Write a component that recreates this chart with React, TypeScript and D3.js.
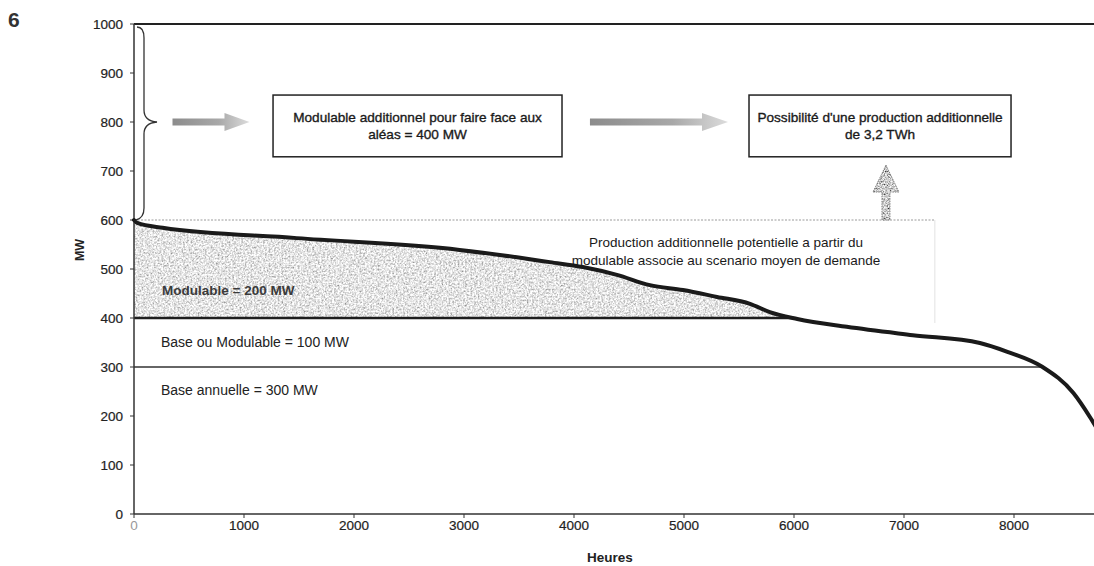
import React from 'react';
import * as d3 from 'd3';

// Load-duration curve (MW vs hours in the year)
const hours = [0, 30, 260, 1480, 2960, 3600, 3780, 4080, 4390, 4690, 4990, 5300, 5600, 5780, 6030, 6480, 7080, 7690, 7940, 8260, 8540, 8690, 8760];
const mw = [600, 594, 584, 563, 539, 520, 514, 504, 488, 467, 457, 443, 429, 412, 398, 382, 365, 349, 331, 300, 247, 198, 172];

const xTicks = [0, 1000, 2000, 3000, 4000, 5000, 6000, 7000, 8000];
const yTicks = [0, 100, 200, 300, 400, 500, 600, 700, 800, 900, 1000];

const baseLevel = 300;
const modLevel = 400;
const capLevel = 600;
const maxLevel = 1000;
const dottedEndHour = 7280;

const boxes = [
  { h0: 1264, h1: 3891, v0: 855, v1: 729, lines: ['Modulable additionnel pour faire face aux', 'aléas = 400 MW'] },
  { h0: 5591, h1: 7973, v0: 855, v1: 729, lines: ["Possibilité d'une production additionnelle", 'de 3,2 TWh'] },
];
const rightArrows = [
  { h0: 350, h1: 1050, head: 25, v: 800 },
  { h0: 4145, h1: 5400, head: 26, v: 800 },
];
const upArrow = { h: 6836, vTop: 712, vHead: 657, vBase: 600 };

const W = 1094, H = 566;
const FONT = '"Liberation Sans", Arial, sans-serif';

export default function App() {
  const x = d3.scaleLinear().domain([0, 8760]).range([134, 134 + 0.11 * 8760]);
  const y = d3.scaleLinear().domain([0, 1000]).range([514, 24]);

  const pts = hours.map((h, i) => ({ h, v: mw[i] }));
  const cross = (level: number) => {
    for (let i = 1; i < pts.length; i++) {
      const a = pts[i - 1], b = pts[i];
      if (a.v >= level && b.v <= level) return a.h + ((a.v - level) / (a.v - b.v)) * (b.h - a.h);
    }
    return 8760;
  };
  const c400 = cross(modLevel);
  const c300 = cross(baseLevel);
  const areaPts = pts.filter(p => p.h < c400).concat([{ h: c400, v: modLevel }]);

  const line = d3.line<{ h: number; v: number }>().x(d => x(d.h)).y(d => y(d.v)).curve(d3.curveMonotoneX);
  const area = d3.area<{ h: number; v: number }>().x(d => x(d.h)).y0(y(modLevel)).y1(d => y(Math.max(d.v, modLevel))).curve(d3.curveMonotoneX);

  const arrowPath = (a: typeof rightArrows[0]) => {
    const x0 = x(a.h0), x1 = x(a.h1), yc = y(a.v), hs = 3.5, hh = 9;
    const xh = x1 - a.head;
    return `M${x0},${yc - hs}L${xh},${yc - hs}L${xh},${yc - hh}L${x1},${yc}L${xh},${yc + hh}L${xh},${yc + hs}L${x0},${yc + hs}Z`;
  };

  const ux = x(upArrow.h), uTop = y(upArrow.vTop), uHead = y(upArrow.vHead), uBase = y(upArrow.vBase);
  const upPath = `M${ux},${uTop}L${ux + 13},${uHead}L${ux + 4},${uHead}L${ux + 4},${uBase}L${ux - 4},${uBase}L${ux - 4},${uHead}L${ux - 13},${uHead}Z`;

  const y1000 = y(maxLevel), y800 = y(800), y600 = y(capLevel);
  const bx = x(0) + 10;
  const brace = `M${x(0) + 3},${y1000 + 3} Q${bx},${y1000 + 3} ${bx},${y1000 + 14} L${bx},${y800 - 12} Q${bx},${y800 - 1} ${bx + 13},${y800} Q${bx},${y800 + 1} ${bx},${y800 + 12} L${bx},${y600 - 12} Q${bx},${y600 - 2} ${x(0) + 2},${y600}`;

  return (
    <svg width={W} height={H} style={{ position: 'absolute', left: 0, top: 0, background: '#fff' }} fontFamily={FONT}>
      <defs>
        <filter id="grain" x="0" y="0" width="100%" height="100%">
          <feTurbulence type="fractalNoise" baseFrequency="0.55" numOctaves="3" seed="4" result="n" />
          <feColorMatrix in="n" type="matrix" values="1.3 0 0 0 0.13  1.3 0 0 0 0.13  1.3 0 0 0 0.13  0 0 0 0 1" result="g" />
          <feComposite in="g" in2="SourceGraphic" operator="in" />
        </filter>
        <filter id="grainDark" x="0" y="0" width="100%" height="100%">
          <feTurbulence type="fractalNoise" baseFrequency="0.7" numOctaves="2" seed="7" result="n" />
          <feColorMatrix in="n" type="matrix" values="1.8 0 0 0 -0.3  1.8 0 0 0 -0.3  1.8 0 0 0 -0.3  0 0 0 0 1" result="g" />
          <feComposite in="g" in2="SourceGraphic" operator="in" />
        </filter>
        <linearGradient id="arrowGrad" x1="0" x2="1" y1="0" y2="0">
          <stop offset="0" stopColor="#8c8c8c" />
          <stop offset="0.6" stopColor="#a8a8a8" />
          <stop offset="1" stopColor="#dcdcdc" />
        </linearGradient>
      </defs>

      <text x={8} y={27} fontSize={21} fontWeight="bold" fill="#333" fontFamily={FONT}>6</text>

      {/* shaded modulable area */}
      <path d={area(areaPts) || ''} fill="#000" filter="url(#grain)" />

      {/* faint rectangle edge and dotted 600 line */}
      <line x1={x(dottedEndHour)} x2={x(dottedEndHour)} y1={y(capLevel)} y2={y(390)} stroke="#ececec" strokeWidth={1.5} />
      <line x1={x(0)} x2={x(dottedEndHour)} y1={y(capLevel)} y2={y(capLevel)} stroke="#9a9a9a" strokeWidth={1} strokeDasharray="2,1.5" />

      {/* level lines */}
      <line x1={x(0)} x2={x(c400)} y1={y(modLevel)} y2={y(modLevel)} stroke="#1e1e1e" strokeWidth={2.5} />
      <line x1={x(0)} x2={x(c300)} y1={y(baseLevel)} y2={y(baseLevel)} stroke="#333" strokeWidth={1.5} />
      <line x1={x(0)} x2={W} y1={y(maxLevel)} y2={y(maxLevel)} stroke="#222" strokeWidth={2} />

      {/* axes */}
      <line x1={x(0)} x2={x(0)} y1={y(0)} y2={y(maxLevel)} stroke="#333" strokeWidth={1.5} />
      <line x1={x(0)} x2={W} y1={y(0)} y2={y(0)} stroke="#333" strokeWidth={1.5} />
      {yTicks.map(t => (
        <g key={'y' + t}>
          <line x1={x(0) - 4} x2={x(0)} y1={y(t)} y2={y(t)} stroke="#333" strokeWidth={1} />
          <text x={x(0) - 11} y={y(t) + 5} textAnchor="end" fontSize={13.5} fill="#222" stroke="#222" strokeWidth={0.2}>{t}</text>
        </g>
      ))}
      {xTicks.map(t => (
        <g key={'x' + t}>
          <line x1={x(t)} x2={x(t)} y1={y(0)} y2={y(0) + 4} stroke="#333" strokeWidth={1} />
          <text x={x(t)} y={530} textAnchor="middle" fontSize={13.5} fill={t === 0 ? '#999' : '#222'} stroke={t === 0 ? 'none' : '#222'} strokeWidth={0.2}>{t}</text>
        </g>
      ))}
      <text x={610} y={562} textAnchor="middle" fontSize={13.5} fontWeight="bold" fill="#222">Heures</text>
      <text transform={`translate(84,${250}) rotate(-90)`} textAnchor="middle" fontSize={12.5} fontWeight="bold" fill="#222">MW</text>

      {/* load curve */}
      <path d={line(pts) || ''} fill="none" stroke="#1a1a1a" strokeWidth={4} strokeLinejoin="round" strokeLinecap="round" />

      {/* annotations */}
      <path d={brace} fill="none" stroke="#333" strokeWidth={1.3} />
      {rightArrows.map((a, i) => (
        <path key={'a' + i} d={arrowPath(a)} fill="url(#arrowGrad)" />
      ))}
      <path d={upPath} fill="#000" filter="url(#grainDark)" />
      <path d={upPath} fill="none" stroke="#666" strokeWidth={0.8} strokeDasharray="1.5,1" />

      {boxes.map((b, i) => {
        const x0 = x(b.h0), x1 = x(b.h1), y0 = y(b.v0), y1 = y(b.v1);
        const cx = (x0 + x1) / 2;
        return (
          <g key={'b' + i}>
            <rect x={x0} y={y0} width={x1 - x0} height={y1 - y0} fill="#fff" stroke="#222" strokeWidth={1.5} />
            {b.lines.map((l, j) => (
              <text key={j} x={cx} y={y0 + 27 + j * 17} textAnchor="middle" fontSize={13.6} fill="#1a1a1a" stroke="#1a1a1a" strokeWidth={0.35}>{l}</text>
            ))}
          </g>
        );
      })}

      <text x={726} y={247} textAnchor="middle" fontSize={13.5} fill="#1a1a1a">Production additionnelle potentielle a partir du</text>
      <text x={726} y={265} textAnchor="middle" fontSize={13.5} fill="#1a1a1a">modulable associe au scenario moyen de demande</text>

      <text x={162} y={295} fontSize={13.5} fontWeight="bold" fill="#3a3a3a">Modulable = 200 MW</text>
      <text x={161} y={347} fontSize={14} fill="#222">Base ou Modulable = 100 MW</text>
      <text x={161} y={395} fontSize={14} fill="#222">Base annuelle = 300 MW</text>
    </svg>
  );
}
